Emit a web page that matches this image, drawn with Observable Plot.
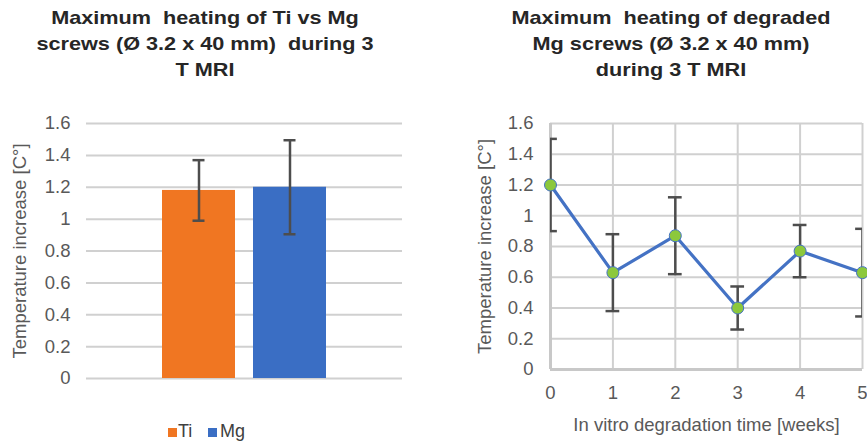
<!DOCTYPE html>
<html>
<head>
<meta charset="utf-8">
<script src="https://cdn.jsdelivr.net/npm/d3@7"></script>
<script src="https://cdn.jsdelivr.net/npm/@observablehq/plot@0.6"></script>
<style>
  html, body { margin: 0; padding: 0; background: #fff; }
  body { width: 867px; height: 445px; position: relative; overflow: hidden; font-family: "Liberation Sans", Arial, sans-serif; }
  .title { position: absolute; text-align: center; font-weight: bold; font-size: 19px; line-height: 26px; color: #262626; transform: scaleX(1.14); white-space: nowrap; }
  .panel { position: absolute; }
  .lg { position: absolute; font-size: 18px; line-height: 20px; color: #404040; }
  .sw { position: absolute; width: 9px; height: 9px; }
</style>
</head>
<body>
<div class="title" style="left:55px; top:5px; width:300px;">Maximum&nbsp; heating of Ti vs Mg<br>screws (Ø 3.2 x 40 mm)&nbsp; during 3<br>T MRI</div>
<div class="title" style="left:521px; top:5px; width:300px;">Maximum&nbsp; heating of degraded<br>Mg screws (Ø 3.2 x 40 mm)<br>during 3 T MRI</div>
<div id="left" class="panel" style="left:0; top:100px;"></div>
<div id="right" class="panel" style="left:440px; top:100px;"></div>
<div id="legend"></div>
<script>
// Left chart data
const materials = ["Ti", "Mg"];
const materialMeans = [1.18, 1.20];
const materialErrors = [0.19, 0.295];
const materialColors = ["#f07622", "#3a6ec4"];

// Right chart data
const weeks = [0, 1, 2, 3, 4, 5];
const weekMeans = [1.20, 0.63, 0.87, 0.40, 0.77, 0.63];
const weekErrors = [0.30, 0.25, 0.25, 0.14, 0.17, 0.285];

const yTicks = [0, 0.2, 0.4, 0.6, 0.8, 1, 1.2, 1.4, 1.6];
const fmt = d => String(d);

const leftData = materials.map((m, i) => ({m, v: materialMeans[i], e: materialErrors[i], c: materialColors[i]}));
const rightData = weeks.map((w, i) => ({w, v: weekMeans[i], e: weekErrors[i]}));

const left = Plot.plot({
  width: 420, height: 300,
  marginLeft: 86, marginRight: 18, marginTop: 23, marginBottom: 22,
  style: {fontFamily: "Liberation Sans, Arial, sans-serif", fontSize: "19.5px", color: "#595959", background: "transparent"},
  x: {domain: materials, paddingInner: 0.2, paddingOuter: 0.836, axis: null},
  y: {domain: [0, 1.6]},
  marks: [
    Plot.gridY(yTicks, {stroke: "#d0d0d0", strokeOpacity: 1, strokeWidth: 2}),
    Plot.axisY(yTicks, {tickSize: 0, tickPadding: 16, tickFormat: fmt, fontSize: 18.5, fill: "#595959",
      label: "Temperature increase [C°]", labelAnchor: "center", labelArrow: "none", labelOffset: 74}),
    Plot.barY(leftData, {x: "m", y: "v", fill: "c"}),
    Plot.ruleX(leftData, {x: "m", y1: d => d.v - d.e, y2: d => d.v + d.e, stroke: "#4d4d4d", strokeWidth: 2.5}),
    Plot.tickY(leftData, {x: "m", y: d => d.v + d.e, stroke: "#4d4d4d", strokeWidth: 2.5, insetLeft: 30.5, insetRight: 30.5}),
    Plot.tickY(leftData, {x: "m", y: d => d.v - d.e, stroke: "#4d4d4d", strokeWidth: 2.5, insetLeft: 30.5, insetRight: 30.5})
  ]
});
document.getElementById("left").appendChild(left);

const right = Plot.plot({
  width: 427, height: 345,
  marginLeft: 110, marginRight: 5, marginTop: 23, marginBottom: 76,
  style: {fontFamily: "Liberation Sans, Arial, sans-serif", fontSize: "19.5px", color: "#595959", background: "transparent", overflow: "visible"},
  x: {domain: [0, 5]},
  y: {domain: [0, 1.6]},
  marks: [
    Plot.gridY(yTicks, {stroke: "#d0d0d0", strokeOpacity: 1, strokeWidth: 2}),
    Plot.gridX(weeks, {stroke: "#d0d0d0", strokeOpacity: 1, strokeWidth: 2}),
    Plot.ruleX([0], {stroke: "#c8c8c8", strokeWidth: 3}),
    Plot.ruleY([0], {stroke: "#c8c8c8", strokeWidth: 3}),
    Plot.axisY(yTicks, {tickSize: 0, tickPadding: 17, tickFormat: fmt, fontSize: 18.5, fill: "#595959",
      label: "Temperature increase [C°]", labelAnchor: "center", labelArrow: "none", labelOffset: 73}),
    Plot.axisX(weeks, {tickSize: 0, tickPadding: 16, tickFormat: fmt, fontSize: 18.5, fill: "#595959",
      label: "In vitro degradation time [weeks]", labelAnchor: "center", labelArrow: "none", labelOffset: 61}),
    Plot.ruleX(rightData, {x: "w", y1: d => d.v - d.e, y2: d => d.v + d.e, stroke: "#4d4d4d", strokeWidth: 2.5, clip: true}),
    Plot.ruleY(rightData, {x1: d => d.w - 0.11, x2: d => d.w + 0.11, y: d => d.v + d.e, stroke: "#4d4d4d", strokeWidth: 2.5, clip: true}),
    Plot.ruleY(rightData, {x1: d => d.w - 0.11, x2: d => d.w + 0.11, y: d => d.v - d.e, stroke: "#4d4d4d", strokeWidth: 2.5, clip: true}),
    Plot.line(rightData, {x: "w", y: "v", stroke: "#4472c4", strokeWidth: 3.2}),
    Plot.dot(rightData, {x: "w", y: "v", r: 6, fill: "#8cc83c", stroke: "#4472c4", strokeWidth: 1})
  ]
});
document.getElementById("right").appendChild(right);

// Legend built from the same series names/colours
const legend = document.getElementById("legend");
const legendPos = [{sw: 168, tx: 178}, {sw: 208, tx: 220}];
materials.forEach((m, i) => {
  const s = document.createElement("div");
  s.className = "sw";
  s.style.left = legendPos[i].sw + "px";
  s.style.top = "428px";
  s.style.background = materialColors[i];
  legend.appendChild(s);
  const t = document.createElement("div");
  t.className = "lg";
  t.style.left = legendPos[i].tx + "px";
  t.style.top = "421px";
  t.textContent = m;
  legend.appendChild(t);
});
</script>
</body>
</html>
